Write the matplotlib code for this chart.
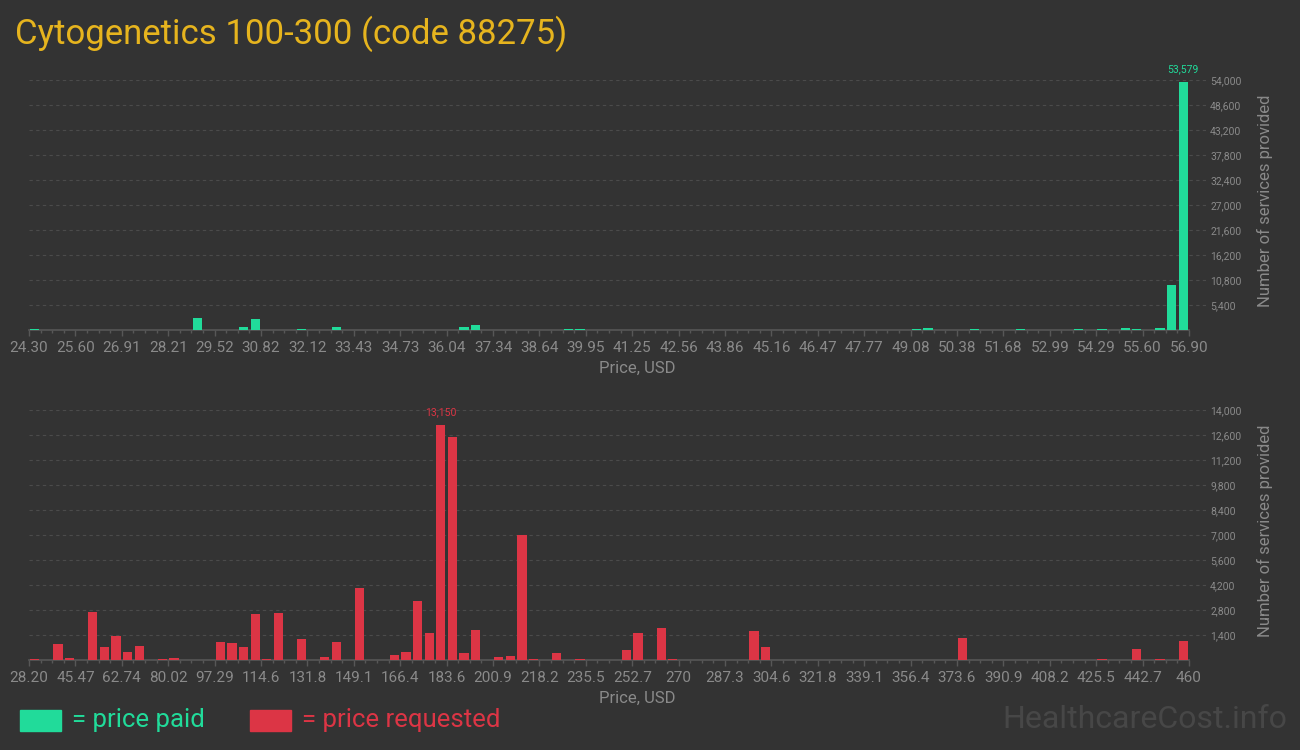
import numpy as np
import matplotlib
matplotlib.use("Agg")
import matplotlib.pyplot as plt
from matplotlib.patches import Rectangle

plt.rcParams['font.family'] = ['Roboto', 'DejaVu Sans']

# histogram setup (100 equal bins per panel)
n_bins = 100
paid_range = (24.30, 56.90)
req_range = (28.20, 460.0)

# price paid: bin index -> number of services
paid_bins = [0, 14, 18, 19, 23, 26, 37, 38, 46, 47, 76, 77, 81, 85, 90, 92, 94, 95, 97, 98, 99]
paid_counts = [200, 2600, 700, 2400, 200, 600, 700, 1100, 200, 200, 250, 450, 250, 250,
               250, 250, 500, 250, 500, 9800, 53579]

# price requested: bin index -> number of services
req_bins = [0, 2, 3, 5, 6, 7, 8, 9, 10, 11, 12, 14, 16, 17, 18, 19, 20, 21, 23, 25, 26, 28, 29,
            31, 32, 33, 34, 35, 36, 37, 38, 40, 41, 42, 43, 44, 45, 46, 47, 49, 51, 52, 54, 55,
            59, 62, 63, 80, 92, 95, 97, 99]
req_counts = [75, 915, 130, 2700, 750, 1360, 470, 800, 20, 75, 130, 20, 1030, 970, 750, 2600,
              75, 2650, 1200, 190, 1030, 4050, 20, 300, 470, 3320, 1530, 13150, 12500, 410,
              1700, 190, 245, 7000, 75, 20, 410, 20, 75, 20, 580, 1530, 1810, 75, 20, 1640,
              750, 1250, 40, 640, 40, 1080]

paid_xlabels = ["24.30", "25.60", "26.91", "28.21", "29.52", "30.82", "32.12", "33.43", "34.73",
                "36.04", "37.34", "38.64", "39.95", "41.25", "42.56", "43.86", "45.16", "46.47",
                "47.77", "49.08", "50.38", "51.68", "52.99", "54.29", "55.60", "56.90"]
req_xlabels = ["28.20", "45.47", "62.74", "80.02", "97.29", "114.6", "131.8", "149.1", "166.4",
               "183.6", "200.9", "218.2", "235.5", "252.7", "270", "287.3", "304.6", "321.8",
               "339.1", "356.4", "373.6", "390.9", "408.2", "425.5", "442.7", "460"]

paid_yticks = [5400, 10800, 16200, 21600, 27000, 32400, 37800, 43200, 48600, 54000]
req_yticks = [1400, 2800, 4200, 5600, 7000, 8400, 9800, 11200, 12600, 14000]

BG = "#333333"
GREEN = "#21db9a"
RED = "#dc3545"
GRID = "#4b4b4b"
AXIS = "#575757"
LABEL = "#8a8a8a"

fig = plt.figure(figsize=(13, 7.5), dpi=100, facecolor=BG)


def draw_panel(rect, rng, bins, counts, color, xlabels, yticks):
    ax = fig.add_axes(rect, facecolor=BG)
    lo, hi = rng
    w = (hi - lo) / n_bins
    vals = np.zeros(n_bins)
    vals[bins] = counts
    centers = lo + (np.arange(n_bins) + 0.5) * w
    ax.bar(centers, vals, width=w * 0.78, color=color, zorder=3)

    # axis extends a bit past the last bin so the gridlines reach the labels
    ax.set_xlim(lo, lo + (hi - lo) * 1177 / 1160)
    ax.set_ylim(0, yticks[-1])

    major = lo + np.arange(0, n_bins + 1, 4) * w
    minor = lo + np.arange(n_bins + 1) * w
    ax.set_xticks(major)
    ax.set_xticklabels(xlabels)
    ax.set_xticks(minor, minor=True)
    ax.tick_params(axis='x', which='major', length=4, width=1, color=AXIS,
                   labelcolor=LABEL, labelsize=11, pad=4)
    ax.tick_params(axis='x', which='minor', length=2, width=1, color=AXIS)

    ax.yaxis.tick_right()
    ax.set_yticks(yticks)
    ax.set_yticklabels([f"{v:,}" for v in yticks])
    ax.tick_params(axis='y', length=0, labelcolor=LABEL, labelsize=7.5, pad=3)
    ax.grid(axis='y', color=GRID, linestyle=(0, (3, 3)), linewidth=0.8, zorder=0)

    for s in ['top', 'left', 'right']:
        ax.spines[s].set_visible(False)
    ax.spines['bottom'].set_color(AXIS)
    ax.spines['bottom'].set_linewidth(1.2)
    ax.spines['bottom'].set_bounds(lo, hi)

    ax.set_xlabel("Price, USD", color=LABEL, fontsize=12)
    ax.xaxis.set_label_coords(0.5166, -0.122)
    ax.yaxis.set_label_position('right')
    ax.set_ylabel("Number of services provided", color=LABEL, fontsize=12,
                  rotation=90, va='center')
    ax.yaxis.set_label_coords(1.050, 0.516)

    # label the tallest bar
    k = int(np.argmax(vals))
    ax.annotate(f"{int(vals[k]):,}", (centers[k], vals[k]), xytext=(0, 8),
                textcoords='offset pixels', ha='center', va='bottom', color=color,
                fontsize=7.5, annotation_clip=False)
    return ax


draw_panel([29 / 1300, 420 / 750, 1177 / 1300, 250 / 750], paid_range, paid_bins,
           paid_counts, GREEN, paid_xlabels, paid_yticks)
draw_panel([29 / 1300, 90 / 750, 1177 / 1300, 250 / 750], req_range, req_bins,
           req_counts, RED, req_xlabels, req_yticks)

fig.text(15 / 1300, 1 - 34 / 750, "Cytogenetics 100-300 (code 88275)", color="#e6b41e",
         fontsize=25, ha='left', va='center')

# legend along the bottom
fig.patches.append(Rectangle((20 / 1300, 1 - 731 / 750), 41 / 1300, 21 / 750,
                             transform=fig.transFigure, color=GREEN))
fig.text(72 / 1300, 1 - 720 / 750, "= price paid", color=GREEN, fontsize=18.5,
         ha='left', va='center')
fig.patches.append(Rectangle((250 / 1300, 1 - 731 / 750), 41 / 1300, 21 / 750,
                             transform=fig.transFigure, color=RED))
fig.text(302 / 1300, 1 - 720 / 750, "= price requested", color=RED, fontsize=18.5,
         ha='left', va='center')

fig.text(1287 / 1300, 1 - 719 / 750, "HealthcareCost.info", color="#474747", fontsize=23,
         ha='right', va='center')

fig.savefig("out.png", dpi=100, facecolor=BG)
